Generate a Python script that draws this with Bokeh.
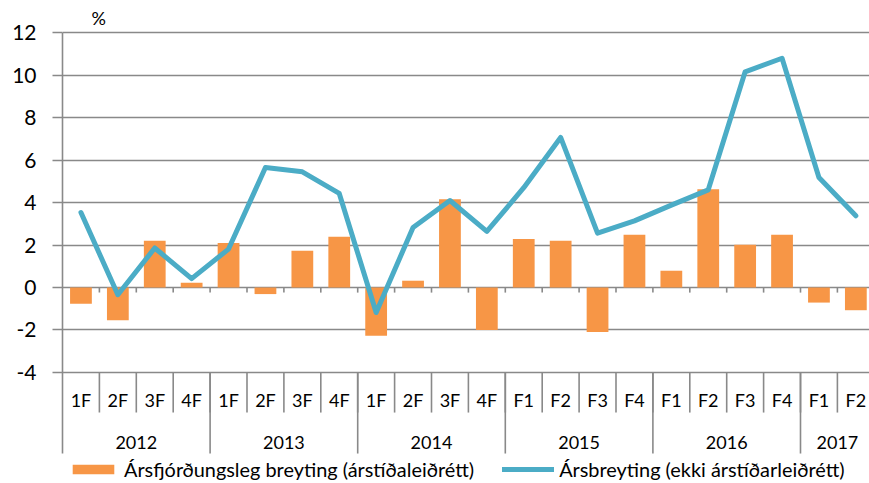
from bokeh.plotting import figure
from bokeh.models import (ColumnDataSource, Range1d, FixedTicker, Legend, LegendItem,
                          Label, CustomJSTickFormatter)
from bokeh.core.properties import value
from bokeh.embed import file_html
from bokeh.resources import INLINE

# ---------------- data ----------------
quarters = ["1F", "2F", "3F", "4F", "1F", "2F", "3F", "4F", "1F", "2F", "3F", "4F",
            "F1", "F2", "F3", "F4", "F1", "F2", "F3", "F4", "F1", "F2"]
period_year = ["2012"] * 4 + ["2013"] * 4 + ["2014"] * 4 + ["2015"] * 4 + ["2016"] * 4 + ["2017"] * 2
years = ["2012", "2013", "2014", "2015", "2016", "2017"]
quarterly_change = [-0.77, -1.54, 2.20, 0.22, 2.10, -0.31, 1.73, 2.39, -2.27, 0.32, 4.16, -2.00,
                    2.29, 2.20, -2.09, 2.48, 0.79, 4.63, 2.01, 2.48, -0.71, -1.07]
annual_change = [3.53, -0.34, 1.86, 0.42, 1.81, 5.65, 5.45, 4.43, -1.18, 2.83, 4.10, 2.64,
                 4.70, 7.07, 2.56, 3.14, 3.88, 4.60, 10.16, 10.80, 5.18, 3.38]
y_ticks = [-4, -2, 0, 2, 4, 6, 8, 10, 12]
bar_label = "Ársfjórðungsleg breyting (árstíðaleiðrétt)"
line_label = "Ársbreyting (ekki árstíðarleiðrétt)"
unit_label = "%"

# ---------------- styles ----------------
ORANGE = "#F79646"
BLUE = "#4BACC6"
GREY = "#898989"
FONT = "Lato"

n = len(quarters)
idx = list(range(n))

src = ColumnDataSource(dict(x=idx, q=quarters, bar=quarterly_change, line=annual_change))

Y_LOW, Y_HIGH = -7.82, 12.0          # extent of the drawn value axis / category box
p = figure(width=869, height=483, output_backend="svg", toolbar_location=None,
           x_range=Range1d(-0.5, 21.37), y_range=Range1d(-9.232, 13.519),
           min_border_left=62, min_border_right=0, min_border_top=0, min_border_bottom=0)
p.outline_line_color = None
p.background_fill_color = "white"
p.border_fill_color = "white"

# axes
p.xaxis.visible = False
p.yaxis.bounds = (Y_LOW, Y_HIGH)
p.yaxis.ticker = FixedTicker(ticks=y_ticks)
p.yaxis.formatter = CustomJSTickFormatter(code="return String(tick);")
p.yaxis.axis_line_color = GREY
p.yaxis.axis_line_width = 1.6
p.yaxis.major_tick_line_color = GREY
p.yaxis.major_tick_line_width = 1.6
p.yaxis.major_tick_out = 10
p.yaxis.major_tick_in = 0
p.yaxis.minor_tick_line_color = None
p.yaxis.major_label_standoff = 16
p.yaxis.major_label_text_font = FONT
p.yaxis.major_label_text_font_size = "21px"
p.yaxis.major_label_text_color = "black"

p.xgrid.visible = False
p.ygrid.ticker = FixedTicker(ticks=y_ticks)
p.ygrid.grid_line_color = GREY
p.ygrid.grid_line_width = 1.6

# bars and line
bars = p.vbar(x="x", top="bar", bottom=0, width=0.59, source=src,
              fill_color=ORANGE, line_color=None)

# small tick marks on the zero line at category boundaries
bounds = [i + 0.5 for i in range(n - 1)]
p.segment(x0=bounds, x1=bounds, y0=[0] * len(bounds), y1=[-0.24] * len(bounds),
          line_color=GREY, line_width=1.6)

ln = p.line(x="x", y="line", source=src, line_color=BLUE, line_width=5,
            line_join="round", line_cap="round")

# category axis: quarter labels and separators
p.text(x="x", y=-5.32, text="q", source=src, text_font=value(FONT), text_font_size="18px",
       text_align="center", text_baseline="middle", text_color="black")
p.segment(x0=bounds, x1=bounds, y0=[-4] * len(bounds), y1=[-5.89] * len(bounds),
          line_color=GREY, line_width=1.6)

# year groups
yr_start, yr_end = [], []
for y in years:
    members = [i for i, yy in enumerate(period_year) if yy == y]
    yr_start.append(members[0] - 0.5)
    yr_end.append(members[-1] + 0.5)
yr_center = [(a + b) / 2 for a, b in zip(yr_start, yr_end)]
p.text(x=yr_center, y=[-7.3] * len(years), text=years, text_font=value(FONT),
       text_font_size="18px", text_align="center", text_baseline="middle", text_color="black")
yr_bounds = sorted(set(yr_start + yr_end))[1:]
p.segment(x0=yr_bounds, x1=yr_bounds, y0=[-4] * len(yr_bounds), y1=[Y_LOW] * len(yr_bounds),
          line_color=GREY, line_width=1.6)

# unit label
p.add_layout(Label(x=29, y=466, x_units="screen", y_units="screen", text=unit_label,
                   text_font=FONT, text_font_size="18px", text_color="black",
                   text_baseline="middle", text_align="left"))

# legend below the plot area
legend = Legend(items=[LegendItem(label=bar_label, renderers=[bars]),
                       LegendItem(label=line_label, renderers=[ln])],
                orientation="horizontal", location=(5, 2),
                glyph_width=52, glyph_height=12, label_standoff=5, spacing=28,
                padding=0, margin=0, border_line_alpha=0, background_fill_alpha=0,
                label_text_font=FONT, label_text_font_size="19.9px", label_text_color="black")
p.add_layout(legend)

open("out.html", "w").write(file_html(p, INLINE))
